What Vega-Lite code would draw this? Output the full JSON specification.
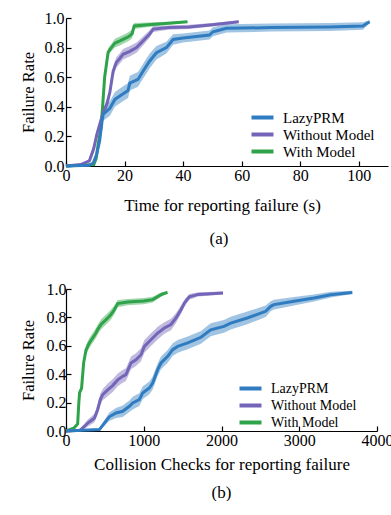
{
  "$schema": "https://vega.github.io/schema/vega-lite/v6.json",
  "padding": {"left": 20, "top": 10, "right": 0, "bottom": 0},
  "spacing": 34,
  "datasets": {
    "a": [
      {"s":"With Model","x":0,"y":0,"lo":0,"hi":0.003},
      {"s":"With Model","x":9.5,"y":0.01,"lo":0.005,"hi":0.015},
      {"s":"With Model","x":10.3,"y":0.05,"lo":0.04,"hi":0.06},
      {"s":"With Model","x":11,"y":0.15,"lo":0.13,"hi":0.17},
      {"s":"With Model","x":11.9,"y":0.25,"lo":0.23,"hi":0.27},
      {"s":"With Model","x":12.5,"y":0.4,"lo":0.375,"hi":0.425},
      {"s":"With Model","x":13.2,"y":0.6,"lo":0.575,"hi":0.625},
      {"s":"With Model","x":14.4,"y":0.77,"lo":0.745,"hi":0.795},
      {"s":"With Model","x":15.3,"y":0.795,"lo":0.77,"hi":0.82},
      {"s":"With Model","x":16.7,"y":0.83,"lo":0.8,"hi":0.86},
      {"s":"With Model","x":18.4,"y":0.845,"lo":0.815,"hi":0.875},
      {"s":"With Model","x":20.7,"y":0.867,"lo":0.837,"hi":0.897},
      {"s":"With Model","x":21.8,"y":0.88,"lo":0.85,"hi":0.91},
      {"s":"With Model","x":22.6,"y":0.894,"lo":0.864,"hi":0.924},
      {"s":"With Model","x":23.3,"y":0.946,"lo":0.926,"hi":0.966},
      {"s":"With Model","x":28,"y":0.955,"lo":0.94,"hi":0.97},
      {"s":"With Model","x":35,"y":0.965,"lo":0.955,"hi":0.975},
      {"s":"With Model","x":41.5,"y":0.975,"lo":0.97,"hi":0.98},
      {"s":"Without Model","x":0,"y":0,"lo":0,"hi":0.003},
      {"s":"Without Model","x":5,"y":0.01,"lo":0.005,"hi":0.015},
      {"s":"Without Model","x":8,"y":0.035,"lo":0.025,"hi":0.045},
      {"s":"Without Model","x":9.5,"y":0.12,"lo":0.09,"hi":0.15},
      {"s":"Without Model","x":10.5,"y":0.21,"lo":0.18,"hi":0.24},
      {"s":"Without Model","x":11.5,"y":0.28,"lo":0.25,"hi":0.31},
      {"s":"Without Model","x":12.7,"y":0.36,"lo":0.33,"hi":0.39},
      {"s":"Without Model","x":14,"y":0.42,"lo":0.385,"hi":0.455},
      {"s":"Without Model","x":15,"y":0.5,"lo":0.465,"hi":0.535},
      {"s":"Without Model","x":16.1,"y":0.64,"lo":0.605,"hi":0.675},
      {"s":"Without Model","x":17.2,"y":0.7,"lo":0.665,"hi":0.735},
      {"s":"Without Model","x":18.5,"y":0.73,"lo":0.695,"hi":0.765},
      {"s":"Without Model","x":19.5,"y":0.755,"lo":0.72,"hi":0.79},
      {"s":"Without Model","x":21.8,"y":0.775,"lo":0.74,"hi":0.81},
      {"s":"Without Model","x":24.1,"y":0.8,"lo":0.765,"hi":0.835},
      {"s":"Without Model","x":26.3,"y":0.845,"lo":0.815,"hi":0.875},
      {"s":"Without Model","x":28.5,"y":0.89,"lo":0.865,"hi":0.915},
      {"s":"Without Model","x":29.8,"y":0.925,"lo":0.905,"hi":0.945},
      {"s":"Without Model","x":35,"y":0.935,"lo":0.92,"hi":0.95},
      {"s":"Without Model","x":42,"y":0.94,"lo":0.925,"hi":0.955},
      {"s":"Without Model","x":50,"y":0.955,"lo":0.943,"hi":0.967},
      {"s":"Without Model","x":59,"y":0.975,"lo":0.967,"hi":0.983},
      {"s":"LazyPRM","x":0,"y":0,"lo":0,"hi":0.003},
      {"s":"LazyPRM","x":8,"y":0.005,"lo":0,"hi":0.01},
      {"s":"LazyPRM","x":9.3,"y":0.02,"lo":0.01,"hi":0.03},
      {"s":"LazyPRM","x":10.5,"y":0.08,"lo":0.06,"hi":0.1},
      {"s":"LazyPRM","x":11.5,"y":0.17,"lo":0.14,"hi":0.2},
      {"s":"LazyPRM","x":12.3,"y":0.3,"lo":0.26,"hi":0.34},
      {"s":"LazyPRM","x":12.7,"y":0.35,"lo":0.305,"hi":0.395},
      {"s":"LazyPRM","x":15,"y":0.39,"lo":0.34,"hi":0.44},
      {"s":"LazyPRM","x":16.7,"y":0.45,"lo":0.4,"hi":0.5},
      {"s":"LazyPRM","x":18.9,"y":0.48,"lo":0.43,"hi":0.53},
      {"s":"LazyPRM","x":21.2,"y":0.51,"lo":0.46,"hi":0.56},
      {"s":"LazyPRM","x":21.8,"y":0.56,"lo":0.51,"hi":0.61},
      {"s":"LazyPRM","x":24.6,"y":0.585,"lo":0.535,"hi":0.635},
      {"s":"LazyPRM","x":26.3,"y":0.64,"lo":0.59,"hi":0.69},
      {"s":"LazyPRM","x":28.6,"y":0.71,"lo":0.66,"hi":0.76},
      {"s":"LazyPRM","x":30.9,"y":0.765,"lo":0.72,"hi":0.81},
      {"s":"LazyPRM","x":34.3,"y":0.8,"lo":0.76,"hi":0.84},
      {"s":"LazyPRM","x":36.6,"y":0.855,"lo":0.82,"hi":0.89},
      {"s":"LazyPRM","x":40,"y":0.865,"lo":0.835,"hi":0.895},
      {"s":"LazyPRM","x":49,"y":0.885,"lo":0.855,"hi":0.915},
      {"s":"LazyPRM","x":50.2,"y":0.907,"lo":0.877,"hi":0.937},
      {"s":"LazyPRM","x":54.8,"y":0.93,"lo":0.902,"hi":0.958},
      {"s":"LazyPRM","x":70,"y":0.935,"lo":0.908,"hi":0.962},
      {"s":"LazyPRM","x":90,"y":0.94,"lo":0.913,"hi":0.967},
      {"s":"LazyPRM","x":101.4,"y":0.946,"lo":0.921,"hi":0.971},
      {"s":"LazyPRM","x":103.7,"y":0.975,"lo":0.965,"hi":0.985}
    ],
    "b": [
      {"s":"With Model","x":0,"y":0,"lo":0,"hi":0.003},
      {"s":"With Model","x":100,"y":0.02,"lo":0.01,"hi":0.03},
      {"s":"With Model","x":150,"y":0.05,"lo":0.035,"hi":0.065},
      {"s":"With Model","x":165,"y":0.2,"lo":0.18,"hi":0.22},
      {"s":"With Model","x":175,"y":0.27,"lo":0.25,"hi":0.29},
      {"s":"With Model","x":200,"y":0.3,"lo":0.28,"hi":0.32},
      {"s":"With Model","x":215,"y":0.4,"lo":0.375,"hi":0.425},
      {"s":"With Model","x":227,"y":0.48,"lo":0.45,"hi":0.51},
      {"s":"With Model","x":257,"y":0.57,"lo":0.535,"hi":0.605},
      {"s":"With Model","x":300,"y":0.62,"lo":0.585,"hi":0.655},
      {"s":"With Model","x":343,"y":0.655,"lo":0.62,"hi":0.69},
      {"s":"With Model","x":386,"y":0.69,"lo":0.655,"hi":0.725},
      {"s":"With Model","x":407,"y":0.714,"lo":0.679,"hi":0.749},
      {"s":"With Model","x":450,"y":0.75,"lo":0.715,"hi":0.785},
      {"s":"With Model","x":493,"y":0.773,"lo":0.738,"hi":0.808},
      {"s":"With Model","x":536,"y":0.796,"lo":0.761,"hi":0.831},
      {"s":"With Model","x":579,"y":0.82,"lo":0.785,"hi":0.855},
      {"s":"With Model","x":622,"y":0.854,"lo":0.824,"hi":0.884},
      {"s":"With Model","x":665,"y":0.897,"lo":0.872,"hi":0.922},
      {"s":"With Model","x":794,"y":0.908,"lo":0.886,"hi":0.93},
      {"s":"With Model","x":1000,"y":0.915,"lo":0.893,"hi":0.937},
      {"s":"With Model","x":1115,"y":0.925,"lo":0.905,"hi":0.945},
      {"s":"With Model","x":1222,"y":0.96,"lo":0.945,"hi":0.975},
      {"s":"With Model","x":1305,"y":0.976,"lo":0.966,"hi":0.986},
      {"s":"Without Model","x":0,"y":0,"lo":0,"hi":0.003},
      {"s":"Without Model","x":180,"y":0.005,"lo":0,"hi":0.01},
      {"s":"Without Model","x":250,"y":0.04,"lo":0.02,"hi":0.06},
      {"s":"Without Model","x":280,"y":0.056,"lo":0.031,"hi":0.081},
      {"s":"Without Model","x":364,"y":0.09,"lo":0.06,"hi":0.12},
      {"s":"Without Model","x":407,"y":0.15,"lo":0.115,"hi":0.185},
      {"s":"Without Model","x":440,"y":0.22,"lo":0.18,"hi":0.26},
      {"s":"Without Model","x":472,"y":0.256,"lo":0.216,"hi":0.296},
      {"s":"Without Model","x":536,"y":0.29,"lo":0.245,"hi":0.335},
      {"s":"Without Model","x":600,"y":0.32,"lo":0.275,"hi":0.365},
      {"s":"Without Model","x":665,"y":0.36,"lo":0.315,"hi":0.405},
      {"s":"Without Model","x":729,"y":0.385,"lo":0.34,"hi":0.43},
      {"s":"Without Model","x":771,"y":0.397,"lo":0.352,"hi":0.442},
      {"s":"Without Model","x":836,"y":0.479,"lo":0.434,"hi":0.524},
      {"s":"Without Model","x":900,"y":0.502,"lo":0.457,"hi":0.547},
      {"s":"Without Model","x":965,"y":0.537,"lo":0.492,"hi":0.582},
      {"s":"Without Model","x":1008,"y":0.596,"lo":0.551,"hi":0.641},
      {"s":"Without Model","x":1093,"y":0.643,"lo":0.598,"hi":0.688},
      {"s":"Without Model","x":1179,"y":0.69,"lo":0.645,"hi":0.735},
      {"s":"Without Model","x":1265,"y":0.725,"lo":0.685,"hi":0.765},
      {"s":"Without Model","x":1350,"y":0.75,"lo":0.71,"hi":0.79},
      {"s":"Without Model","x":1415,"y":0.796,"lo":0.761,"hi":0.831},
      {"s":"Without Model","x":1479,"y":0.854,"lo":0.824,"hi":0.884},
      {"s":"Without Model","x":1522,"y":0.9,"lo":0.875,"hi":0.925},
      {"s":"Without Model","x":1586,"y":0.945,"lo":0.925,"hi":0.965},
      {"s":"Without Model","x":1700,"y":0.962,"lo":0.947,"hi":0.977},
      {"s":"Without Model","x":2019,"y":0.972,"lo":0.962,"hi":0.982},
      {"s":"LazyPRM","x":0,"y":0,"lo":0,"hi":0.003},
      {"s":"LazyPRM","x":430,"y":0.01,"lo":0.002,"hi":0.018},
      {"s":"LazyPRM","x":493,"y":0.056,"lo":0.036,"hi":0.076},
      {"s":"LazyPRM","x":557,"y":0.1,"lo":0.07,"hi":0.13},
      {"s":"LazyPRM","x":643,"y":0.127,"lo":0.092,"hi":0.162},
      {"s":"LazyPRM","x":729,"y":0.139,"lo":0.099,"hi":0.179},
      {"s":"LazyPRM","x":815,"y":0.174,"lo":0.134,"hi":0.214},
      {"s":"LazyPRM","x":858,"y":0.197,"lo":0.152,"hi":0.242},
      {"s":"LazyPRM","x":943,"y":0.221,"lo":0.176,"hi":0.266},
      {"s":"LazyPRM","x":986,"y":0.268,"lo":0.223,"hi":0.313},
      {"s":"LazyPRM","x":1072,"y":0.303,"lo":0.258,"hi":0.348},
      {"s":"LazyPRM","x":1115,"y":0.338,"lo":0.293,"hi":0.383},
      {"s":"LazyPRM","x":1179,"y":0.432,"lo":0.387,"hi":0.477},
      {"s":"LazyPRM","x":1222,"y":0.479,"lo":0.434,"hi":0.524},
      {"s":"LazyPRM","x":1308,"y":0.526,"lo":0.481,"hi":0.571},
      {"s":"LazyPRM","x":1372,"y":0.573,"lo":0.528,"hi":0.618},
      {"s":"LazyPRM","x":1437,"y":0.596,"lo":0.551,"hi":0.641},
      {"s":"LazyPRM","x":1565,"y":0.62,"lo":0.575,"hi":0.665},
      {"s":"LazyPRM","x":1650,"y":0.64,"lo":0.595,"hi":0.685},
      {"s":"LazyPRM","x":1736,"y":0.66,"lo":0.615,"hi":0.705},
      {"s":"LazyPRM","x":1861,"y":0.713,"lo":0.668,"hi":0.758},
      {"s":"LazyPRM","x":2032,"y":0.737,"lo":0.692,"hi":0.782},
      {"s":"LazyPRM","x":2118,"y":0.76,"lo":0.715,"hi":0.805},
      {"s":"LazyPRM","x":2332,"y":0.796,"lo":0.751,"hi":0.841},
      {"s":"LazyPRM","x":2568,"y":0.843,"lo":0.803,"hi":0.883},
      {"s":"LazyPRM","x":2633,"y":0.878,"lo":0.843,"hi":0.913},
      {"s":"LazyPRM","x":2675,"y":0.89,"lo":0.855,"hi":0.925},
      {"s":"LazyPRM","x":2932,"y":0.913,"lo":0.883,"hi":0.943},
      {"s":"LazyPRM","x":3190,"y":0.937,"lo":0.912,"hi":0.962},
      {"s":"LazyPRM","x":3404,"y":0.96,"lo":0.94,"hi":0.98},
      {"s":"LazyPRM","x":3682,"y":0.976,"lo":0.964,"hi":0.988}
    ]
  },
  "config": {
    "font": "Liberation Serif",
    "view": {"stroke": null},
    "axis": {
      "grid": false,
      "domainColor": "black",
      "domainWidth": 1.2,
      "tickColor": "black",
      "tickWidth": 1.2,
      "tickSize": -5,
      "labelFlush": false,
      "labelFont": "Liberation Serif",
      "labelFontSize": 16,
      "labelColor": "black",
      "titleFont": "Liberation Serif",
      "titleFontSize": 17,
      "titleFontWeight": "normal",
      "titleColor": "black"
    },
    "legend": {
      "labelFont": "Liberation Serif",
      "labelFontSize": 15,
      "labelColor": "black",
      "symbolType": "M-2,0H2",
      "symbolStrokeWidth": 4,
      "symbolSize": 121,
      "rowPadding": 0,
      "padding": 0,
      "labelOffset": 13
    },
    "title": {"font": "Liberation Serif", "fontSize": 17, "fontWeight": "normal", "color": "black", "orient": "bottom", "offset": 18}
  },
  "resolve": {"legend": {"color": "independent"}, "scale": {"x": "independent"}},
  "vconcat": [
    {
      "width": 322,
      "height": 148,
      "title": {"text": "(a)", "dx": -8},
      "data": {"name": "a"},
      "encoding": {
        "x": {"field": "x", "type": "quantitative", "scale": {"domain": [0, 110], "nice": false}, "axis": {"values": [0, 20, 40, 60, 80, 100], "title": "Time for reporting failure (s)", "labelPadding": 6, "titlePadding": 14, "titleX": 156}},
        "y": {"field": "y", "type": "quantitative", "scale": {"domain": [0, 1], "nice": false}, "axis": {"values": [0, 0.2, 0.4, 0.6, 0.8, 1.0], "format": ".1f", "title": "Failure Rate", "titleFontSize": 16.5, "labelPadding": 7, "titlePadding": 8}}
      },
      "layer": [
        {
          "mark": {"type": "area", "opacity": 0.45},
          "encoding": {
            "y": {"field": "lo", "type": "quantitative"},
            "y2": {"field": "hi"},
            "fill": {"field": "s", "type": "nominal", "legend": null, "scale": {"domain": ["LazyPRM", "Without Model", "With Model"], "range": ["#2f7cc0", "#7565b8", "#2ea349"]}}
          }
        },
        {
          "mark": {"type": "line", "strokeWidth": 3},
          "encoding": {
            "color": {"field": "s", "type": "nominal", "scale": {"domain": ["LazyPRM", "Without Model", "With Model"], "range": ["#2f7cc0", "#7565b8", "#2ea349"]}, "legend": {"title": null, "orient": "none", "legendX": 189, "legendY": 92}}
          }
        }
      ]
    },
    {
      "width": 311,
      "height": 142,
      "title": {"text": "(b)", "offset": 13},
      "data": {"name": "b"},
      "encoding": {
        "x": {"field": "x", "type": "quantitative", "scale": {"domain": [0, 4000], "nice": false}, "axis": {"values": [0, 1000, 2000, 3000, 4000], "format": "d", "title": "Collision Checks for reporting failure", "labelPadding": 6, "titlePadding": 8}},
        "y": {"field": "y", "type": "quantitative", "scale": {"domain": [0, 1], "nice": false}, "axis": {"values": [0, 0.2, 0.4, 0.6, 0.8, 1.0], "format": ".1f", "title": "Failure Rate", "titleFontSize": 16.5, "labelPadding": 5, "titlePadding": 10}}
      },
      "layer": [
        {
          "mark": {"type": "area", "opacity": 0.45},
          "encoding": {
            "y": {"field": "lo", "type": "quantitative"},
            "y2": {"field": "hi"},
            "fill": {"field": "s", "type": "nominal", "legend": null, "scale": {"domain": ["LazyPRM", "Without Model", "With Model"], "range": ["#2f7cc0", "#7565b8", "#2ea349"]}}
          }
        },
        {
          "mark": {"type": "line", "strokeWidth": 3},
          "encoding": {
            "color": {"field": "s", "type": "nominal", "scale": {"domain": ["LazyPRM", "Without Model", "With Model"], "range": ["#2f7cc0", "#7565b8", "#2ea349"]}, "legend": {"title": null, "orient": "none", "legendX": 177, "legendY": 92, "labelFontSize": 14}}
          }
        }
      ]
    }
  ]
}
